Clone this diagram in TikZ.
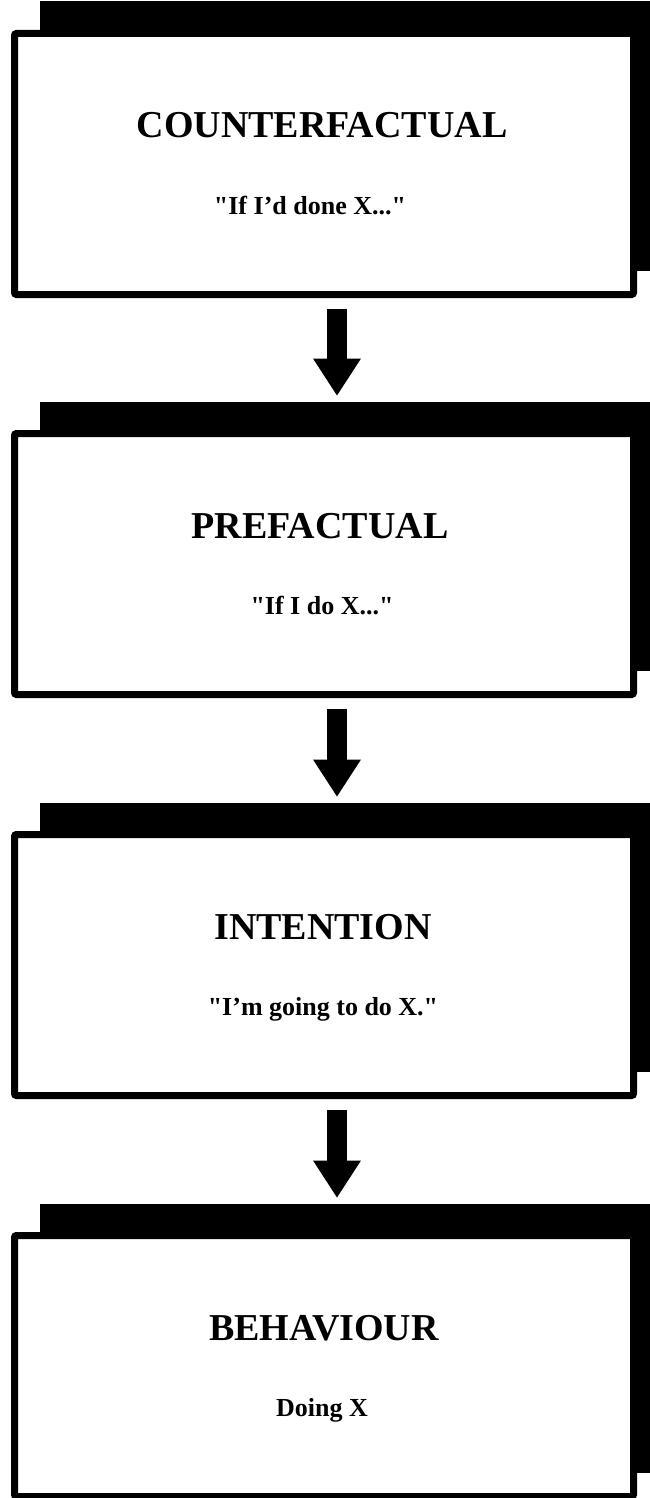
\documentclass[tikz,border=0pt]{standalone}
\usepackage{fontspec}
\setmainfont{Liberation Serif}
\usetikzlibrary{arrows.meta,backgrounds}
\tikzset{
  stagebox/.style={draw, line width=7pt, rounded corners=2pt, minimum width=619pt, minimum height=261pt, inner sep=0pt, fill=white},
  titletext/.style={anchor=base, font=\fontsize{38}{40}\selectfont\bfseries, inner sep=0pt},
  subtext/.style={anchor=base, font=\fontsize{26}{28}\selectfont\bfseries, inner sep=0pt},
  flowarrow/.style={line width=20pt, -{Triangle[width=48pt,length=37pt,line width=0pt]}},
  boxshadow/.style={fill=black},
}
\begin{document}
\begin{tikzpicture}[x=1pt,y=-1pt]
\useasboundingbox (0,0) rectangle (649,1498);
\clip (0,0) rectangle (649,1498);
% boxes
\node[stagebox] (b1) at (324,164) {};
\node[stagebox] (b2) at (324,564) {};
\node[stagebox] (b3) at (324,965) {};
\node[stagebox] (b4) at (324,1366) {};
% shadows
\begin{scope}[on background layer]
\foreach \b in {b1,b2,b3,b4}{
  \fill[boxshadow] ([xshift=28.5pt,yshift=28.5pt]\b.north west) rectangle ([xshift=35.5pt,yshift=27.5pt]\b.south east);
}
\end{scope}
% texts
\node[titletext] (t1) at (322,138) {COUNTERFACTUAL};
\node[subtext] (s1) at (310,214) {\textquotedbl If I'd done X...\textquotedbl};
\node[titletext] (t2) at (320,538) {PREFACTUAL};
\node[subtext] (s2) at (322,614) {\textquotedbl If I do X...\textquotedbl};
\node[titletext] (t3) at (323,939) {INTENTION};
\node[subtext] (s3) at (323,1015) {\textquotedbl I'm going to do X.\textquotedbl};
\node[titletext] (t4) at (324,1340) {BEHAVIOUR};
\node[subtext] (s4) at (322,1416) {Doing X};
% arrows
\draw[flowarrow] ([xshift=13pt,yshift=-10.5pt]b1.south) -- ([xshift=13pt,yshift=34.5pt]b2.north);
\draw[flowarrow] ([xshift=13pt,yshift=-10.5pt]b2.south) -- ([xshift=13pt,yshift=34.5pt]b3.north);
\draw[flowarrow] ([xshift=13pt,yshift=-10.5pt]b3.south) -- ([xshift=13pt,yshift=34.5pt]b4.north);
\end{tikzpicture}
\end{document}
